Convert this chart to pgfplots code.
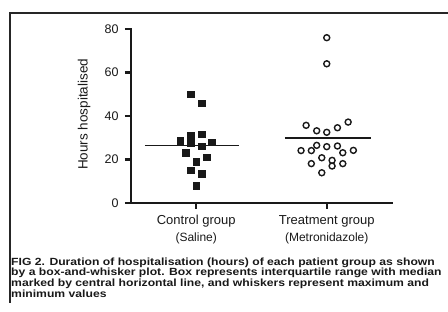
\documentclass[border=0pt]{standalone}
\usepackage{fontspec}
\setmainfont{Liberation Sans}
\newfontfamily\capfont{Liberation Sans}[FakeStretch=1.17]
\usepackage{pgfplots}
\pgfplotsset{compat=1.18}
\begin{document}
\begin{tikzpicture}[x=1pt,y=1pt]
\path[use as bounding box] (-131,-109) rectangle (317,203);
\draw[line width=1.8pt, black!85] (-121,-100) -- (-121,190) -- (318,190);
\begin{axis}[
  at={(0,0)}, anchor=south west,
  scale only axis, width=261pt, height=174pt,
  xmin=-0.5, xmax=1.5, ymin=0, ymax=80,
  axis x line*=bottom, axis y line*=left,
  axis line style={-, line width=2.8pt, black!90, line cap=rect},
  /pgf/number format/assume math mode=true,
  xtick={0,1},
  xticklabels={{Control group\\\fontsize{12}{16.7}\selectfont (Saline)},{Treatment group\\\fontsize{12}{16.7}\selectfont (Metronidazole)}},
  xticklabel style={align=center, font=\fontsize{13}{16.7}\selectfont, text=black!90, yshift=-3pt},
  ytick={0,20,40,60,80},
  yticklabel style={font=\fontsize{12.5}{15}\selectfont, text=black!90, xshift=-3pt},
  tick align=outside, major tick length=6pt,
  major tick style={line width=2.2pt, black!90},
  ylabel={Hours hospitalised},
  ylabel style={at={(axis description cs:-0.18,0.51)}, anchor=center, font=\fontsize{13.5}{16}\selectfont, text=black!90},
  clip=false,
]
% Control group (Saline)
\addplot[only marks, mark=square*, mark size=3.2pt, black!90, mark options={line width=0.4pt}] coordinates {
  (-0.041,50) (0.041,46) (-0.041,31.3) (0.041,31.7) (-0.123,28.7) (-0.041,27.7)
  (0.118,27.9) (0.041,26.2) (-0.082,23.1) (0.079,21.1) (0,19) (-0.041,15)
  (0.041,13.5) (0,8)
};
% Treatment group (Metronidazole)
\addplot[only marks, mark=o, mark size=3pt, mark options={line width=1.4pt, black!90}] coordinates {
  (1,76) (1,64) (1.164,37.2) (0.842,35.7) (1.082,34.6) (0.923,33.2) (1,32.5)
  (0.923,26.5) (1,25.9) (1.082,26.2) (0.803,24.1) (0.882,24.1) (1.204,24.2)
  (1.123,23.1) (0.962,20.8) (1.041,19.6) (0.882,18.1) (1.123,18.1) (1.041,17.0)
  (0.962,13.9)
};
% means
\addplot[line width=1.4pt, black!90] coordinates {(-0.393,26.4) (0.327,26.4)};
\addplot[line width=1.4pt, black!90] coordinates {(0.68,29.8) (1.337,29.8)};
\end{axis}
\begin{scope}[font=\capfont\bfseries\fontsize{10.4}{12}\selectfont, black!90]
\node[anchor=base west, inner sep=0pt] at (-120,-62.3) {FIG 2. Duration of hospitalisation (hours) of each patient group as shown};
\node[anchor=base west, inner sep=0pt] at (-120,-73) {by a box-and-whisker plot. Box represents interquartile range with median};
\node[anchor=base west, inner sep=0pt] at (-120,-83.8) {marked by central horizontal line, and whiskers represent maximum and};
\node[anchor=base west, inner sep=0pt] at (-120,-94.3) {minimum values};
\end{scope}
\end{tikzpicture}
\end{document}
